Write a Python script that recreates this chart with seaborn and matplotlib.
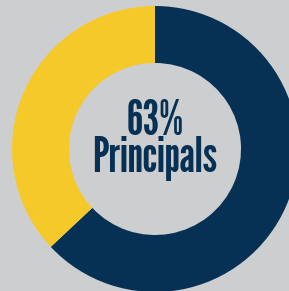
import matplotlib
matplotlib.use("Agg")
import seaborn as sns
import matplotlib.pyplot as plt

# share of respondents
labels = ["Principals", "Other"]
shares = [63, 37]
colors = ["#073154", "#f6c92b"]
bg = "#cdced0"

sns.set_style("white")
plt.rcParams["font.family"] = ["League Gothic", "DejaVu Sans"]

fig = plt.figure(figsize=(2.89, 2.91), dpi=100, facecolor=bg)
ax = fig.add_axes([0, 0, 1, 1])
ax.set_facecolor(bg)

ax.pie(shares, colors=colors, startangle=90, counterclock=False,
       radius=143, center=(155, 142),
       wedgeprops=dict(width=57, edgecolor="none", linewidth=0))

ax.set_xlim(0, 289)
ax.set_ylim(0, 291)
ax.set_aspect("equal")
ax.axis("off")

ax.text(155, 156, f"{shares[0]}%", ha="center", va="baseline",
        fontsize=34.5, color=colors[0])
ax.text(155, 119, labels[0], ha="center", va="baseline",
        fontsize=34.5, color=colors[0])

fig.savefig("out.png", dpi=100, facecolor=bg)
